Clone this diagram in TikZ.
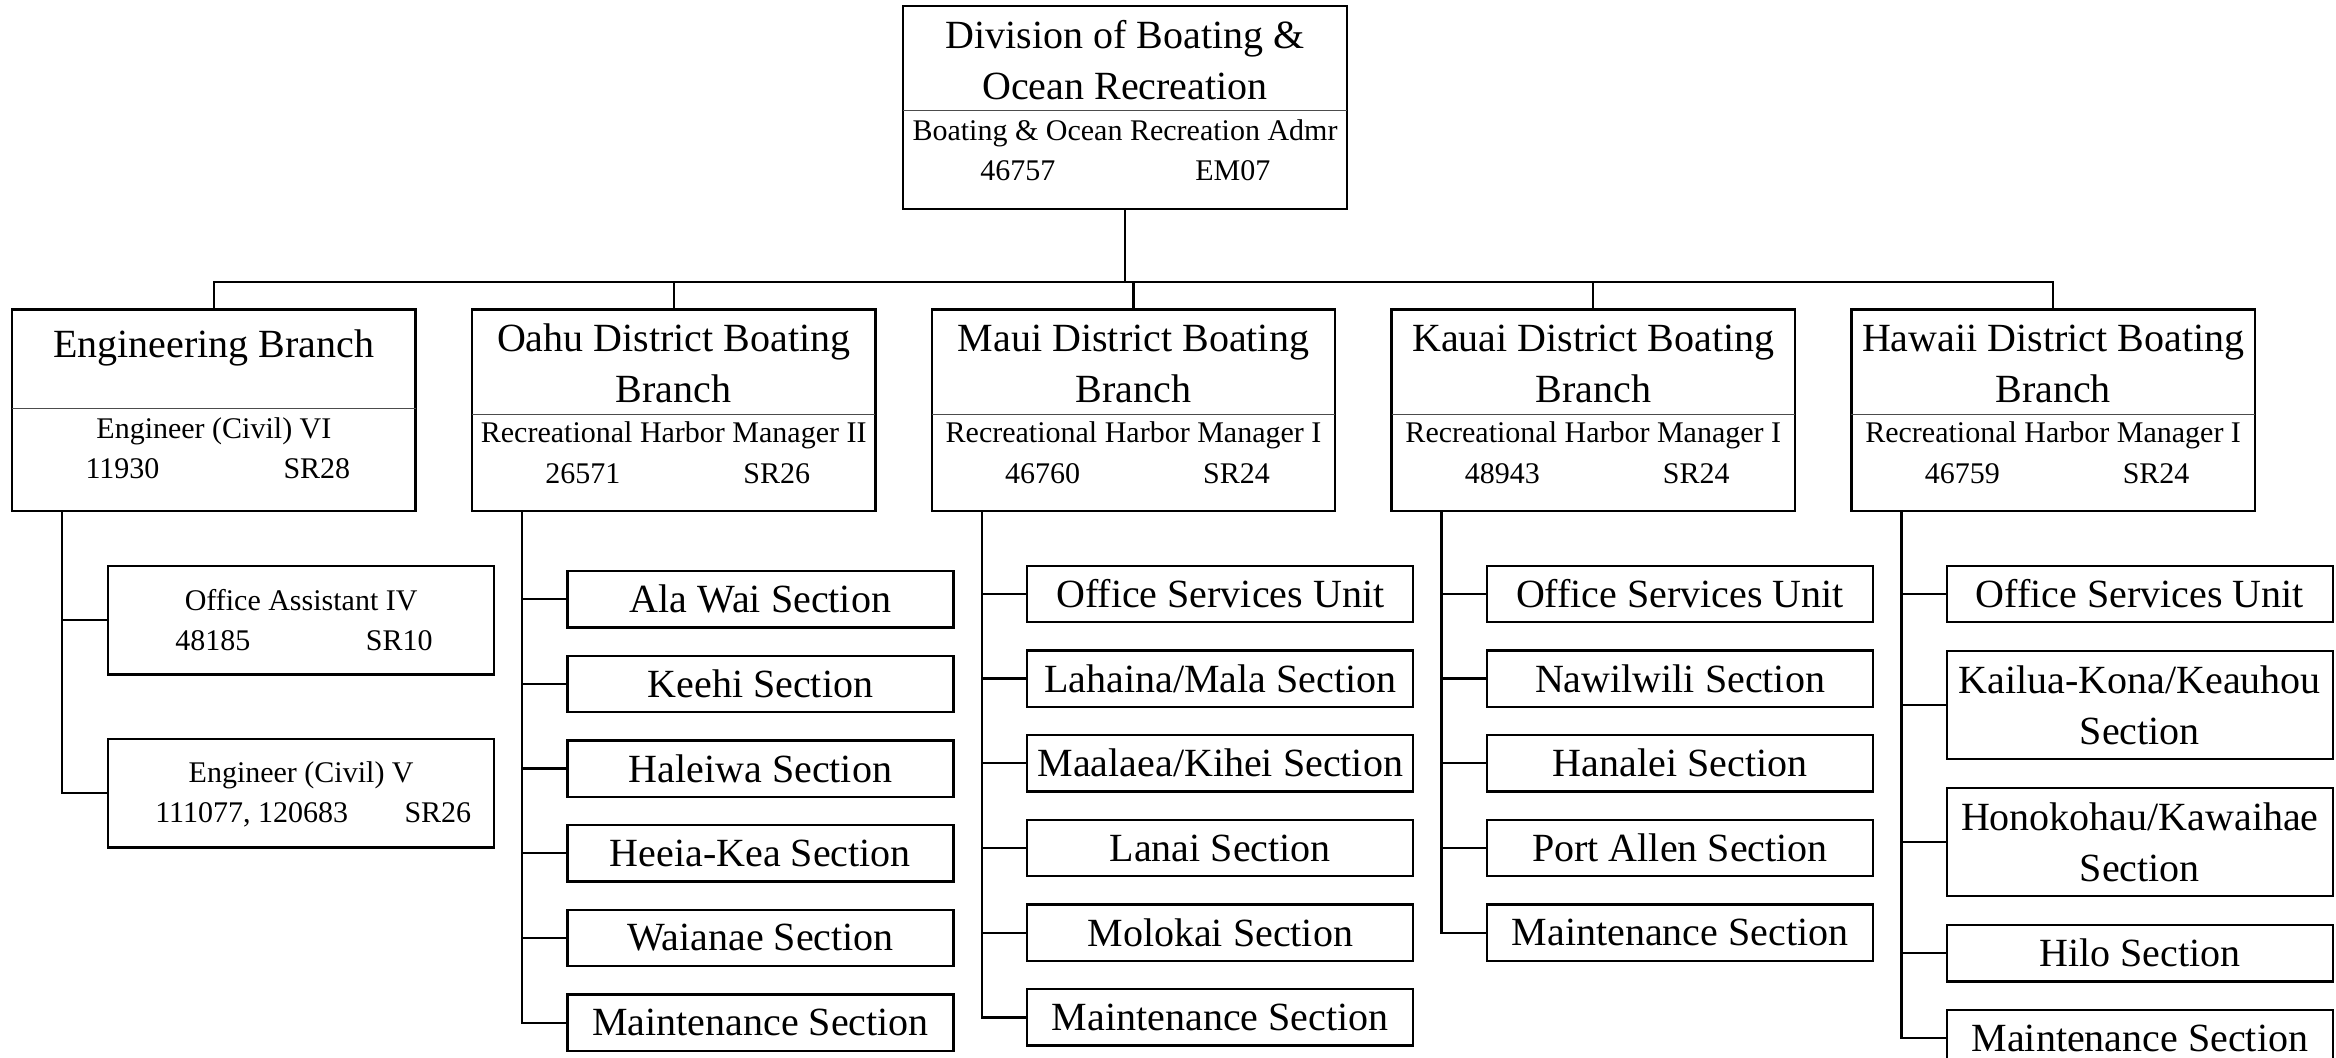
\documentclass[tikz,border=0pt]{standalone}
\usepackage{fontspec}
\setmainfont{Liberation Serif}
\usetikzlibrary{positioning}

\begin{document}
\begin{tikzpicture}[
  x=0.5pt, y=-0.5pt,
  box/.style={rectangle, draw, line width=1.2pt, outer sep=0pt, inner sep=0pt},
  head/.style={box, minimum width=222pt, minimum height=101.5pt},
  branch/.style={box, minimum width=201.75pt, minimum height=100.85pt},
  section/.style={box, minimum width=193pt, minimum height=28.15pt, font=\fontsize{20}{25.5}\selectfont, align=center},
  post/.style={box, minimum width=193pt, minimum height=54.3pt},
  title/.style={font=\fontsize{20}{25.5}\selectfont, align=center, anchor=base, inner sep=0pt},
  info/.style={font=\fontsize{15}{19.5}\selectfont, anchor=base, inner sep=0pt},
  tabs/.style={info, anchor=base west},
  rule/.style={line width=0.5pt, black!70},
  link/.style={line width=1.15pt},
]
\useasboundingbox (0,0) rectangle (2336,1058);

% Division
\node[head] (div) at (1125,107.5) {};
\node[title] (div-name) at ([yshift=-46.65pt]div.north) {Division of Boating \&\\Ocean Recreation};
\draw[rule] ([yshift=-52.5pt]div.north west) -- ([yshift=-52.5pt]div.north east);
\node[info] (div-job) at ([yshift=-67.35pt]div.north) {Boating \& Ocean Recreation Admr};
\node[tabs] (div-num) at ([xshift=38.5pt,yshift=-87.5pt]div.north west) {\makebox[107.5pt][l]{46757}EM07};

\coordinate (bus) at (1125,282);
\draw[link] (div.south) -- (bus);

% Engineering
\node[branch] (eng) at (213.9,410.2) {};
\node[title] (eng-name) at ([yshift=-24pt]eng.north) {Engineering Branch};
\draw[rule] ([yshift=-49.5pt]eng.north west) -- ([yshift=-49.5pt]eng.north east);
\node[info] (eng-job) at ([yshift=-64.5pt]eng.north) {Engineer (Civil) VI};
\node[tabs] (eng-num) at ([xshift=36.5pt,yshift=-84.5pt]eng.north west) {\makebox[99pt][l]{11930}SR28};
\draw[link] (bus) -| (eng.north);

\node[post, below right=27.5pt and 48pt of eng.south west] (clerk) {};
\node[info] (clerk-job) at ([yshift=-22pt]clerk.north) {Office Assistant IV};
\node[tabs] (clerk-num) at ([xshift=33.35pt,yshift=-42.35pt]clerk.north west) {\makebox[95.35pt][l]{48185}SR10};
\node[post, below=32.15pt of clerk] (civil) {};
\node[info] (civil-job) at ([yshift=-21.7pt]civil.north) {Engineer (Civil) V};
\node[tabs] (civil-num) at ([xshift=23.35pt,yshift=-42pt]civil.north west) {\makebox[124.65pt][l]{111077, 120683}SR26};
\draw[link] ([xshift=25pt]eng.south west) |- (clerk.west);
\draw[link] ([xshift=25pt]eng.south west) |- (civil.west);

% Oahu
\node[branch] (oahu) at (673.7,410.2) {};
\node[title] (oahu-name) at ([yshift=-46.7pt]oahu.north) {Oahu District Boating\\Branch};
\draw[rule] ([yshift=-52.5pt]oahu.north west) -- ([yshift=-52.5pt]oahu.north east);
\node[info] (oahu-job) at ([yshift=-66.7pt]oahu.north) {Recreational Harbor Manager II};
\node[tabs] (oahu-num) at ([xshift=36.5pt,yshift=-87pt]oahu.north west) {\makebox[99pt][l]{26571}SR26};
\draw[link] (bus) -| (oahu.north);

\node[section, below right=30pt and 47.75pt of oahu.south west] (alawai) {Ala Wai Section};
\node[section, below=14.2pt of alawai] (keehi) {Keehi Section};
\node[section, below=14.2pt of keehi] (haleiwa) {Haleiwa Section};
\node[section, below=14.2pt of haleiwa] (heeiakea) {Heeia-Kea Section};
\node[section, below=14.2pt of heeiakea] (waianae) {Waianae Section};
\node[section, below=14.2pt of waianae] (oahumaint) {Maintenance Section};
\draw[link] ([xshift=25pt]oahu.south west) |- (alawai.west);
\draw[link] ([xshift=25pt]oahu.south west) |- (keehi.west);
\draw[link] ([xshift=25pt]oahu.south west) |- (haleiwa.west);
\draw[link] ([xshift=25pt]oahu.south west) |- (heeiakea.west);
\draw[link] ([xshift=25pt]oahu.south west) |- (waianae.west);
\draw[link] ([xshift=25pt]oahu.south west) |- (oahumaint.west);

% Maui
\node[branch] (maui) at (1133.5,410.2) {};
\node[title] (maui-name) at ([yshift=-46.7pt]maui.north) {Maui District Boating\\Branch};
\draw[rule] ([yshift=-52.5pt]maui.north west) -- ([yshift=-52.5pt]maui.north east);
\node[info] (maui-job) at ([yshift=-66.7pt]maui.north) {Recreational Harbor Manager I};
\node[tabs] (maui-num) at ([xshift=36.5pt,yshift=-87pt]maui.north west) {\makebox[99pt][l]{46760}SR24};
\draw[link] (bus) -| (maui.north);

\node[section, below right=27.35pt and 47.75pt of maui.south west] (mauioffice) {Office Services Unit};
\node[section, below=14.2pt of mauioffice] (lahaina) {Lahaina/Mala Section};
\node[section, below=14.2pt of lahaina] (maalaea) {Maalaea/Kihei Section};
\node[section, below=14.2pt of maalaea] (lanai) {Lanai Section};
\node[section, below=14.2pt of lanai] (molokai) {Molokai Section};
\node[section, below=14.2pt of molokai] (mauimaint) {Maintenance Section};
\draw[link] ([xshift=25pt]maui.south west) |- (mauioffice.west);
\draw[link] ([xshift=25pt]maui.south west) |- (lahaina.west);
\draw[link] ([xshift=25pt]maui.south west) |- (maalaea.west);
\draw[link] ([xshift=25pt]maui.south west) |- (lanai.west);
\draw[link] ([xshift=25pt]maui.south west) |- (molokai.west);
\draw[link] ([xshift=25pt]maui.south west) |- (mauimaint.west);

% Kauai
\node[branch] (kauai) at (1593.3,410.2) {};
\node[title] (kauai-name) at ([yshift=-46.7pt]kauai.north) {Kauai District Boating\\Branch};
\draw[rule] ([yshift=-52.5pt]kauai.north west) -- ([yshift=-52.5pt]kauai.north east);
\node[info] (kauai-job) at ([yshift=-66.7pt]kauai.north) {Recreational Harbor Manager I};
\node[tabs] (kauai-num) at ([xshift=36.5pt,yshift=-87pt]kauai.north west) {\makebox[99pt][l]{48943}SR24};
\draw[link] (bus) -| (kauai.north);

\node[section, below right=27.35pt and 47.75pt of kauai.south west] (kauaioffice) {Office Services Unit};
\node[section, below=14.2pt of kauaioffice] (nawilwili) {Nawilwili Section};
\node[section, below=14.2pt of nawilwili] (hanalei) {Hanalei Section};
\node[section, below=14.2pt of hanalei] (portallen) {Port Allen Section};
\node[section, below=14.2pt of portallen] (kauaimaint) {Maintenance Section};
\draw[link] ([xshift=25pt]kauai.south west) |- (kauaioffice.west);
\draw[link] ([xshift=25pt]kauai.south west) |- (nawilwili.west);
\draw[link] ([xshift=25pt]kauai.south west) |- (hanalei.west);
\draw[link] ([xshift=25pt]kauai.south west) |- (portallen.west);
\draw[link] ([xshift=25pt]kauai.south west) |- (kauaimaint.west);

% Hawaii
\node[branch] (hawaii) at (2053.1,410.2) {};
\node[title] (hawaii-name) at ([yshift=-46.7pt]hawaii.north) {Hawaii District Boating\\Branch};
\draw[rule] ([yshift=-52.5pt]hawaii.north west) -- ([yshift=-52.5pt]hawaii.north east);
\node[info] (hawaii-job) at ([yshift=-66.7pt]hawaii.north) {Recreational Harbor Manager I};
\node[tabs] (hawaii-num) at ([xshift=36.5pt,yshift=-87pt]hawaii.north west) {\makebox[99pt][l]{46759}SR24};
\draw[link] (bus) -| (hawaii.north);

\node[section, below right=27.35pt and 47.75pt of hawaii.south west] (hawaiioffice) {Office Services Unit};
\node[section, minimum height=54.15pt, below=14.4pt of hawaiioffice] (kailua) {Kailua-Kona/Keauhou\\Section};
\node[section, minimum height=54.15pt, below=14.4pt of kailua] (honokohau) {Honokohau/Kawaihae\\Section};
\node[section, below=14.4pt of honokohau] (hilo) {Hilo Section};
\node[section, below=14.4pt of hilo] (hawaiimaint) {Maintenance Section};
\draw[link] ([xshift=25pt]hawaii.south west) |- (hawaiioffice.west);
\draw[link] ([xshift=25pt]hawaii.south west) |- (kailua.west);
\draw[link] ([xshift=25pt]hawaii.south west) |- (honokohau.west);
\draw[link] ([xshift=25pt]hawaii.south west) |- (hilo.west);
\draw[link] ([xshift=25pt]hawaii.south west) |- (hawaiimaint.west);

\end{tikzpicture}
\end{document}
